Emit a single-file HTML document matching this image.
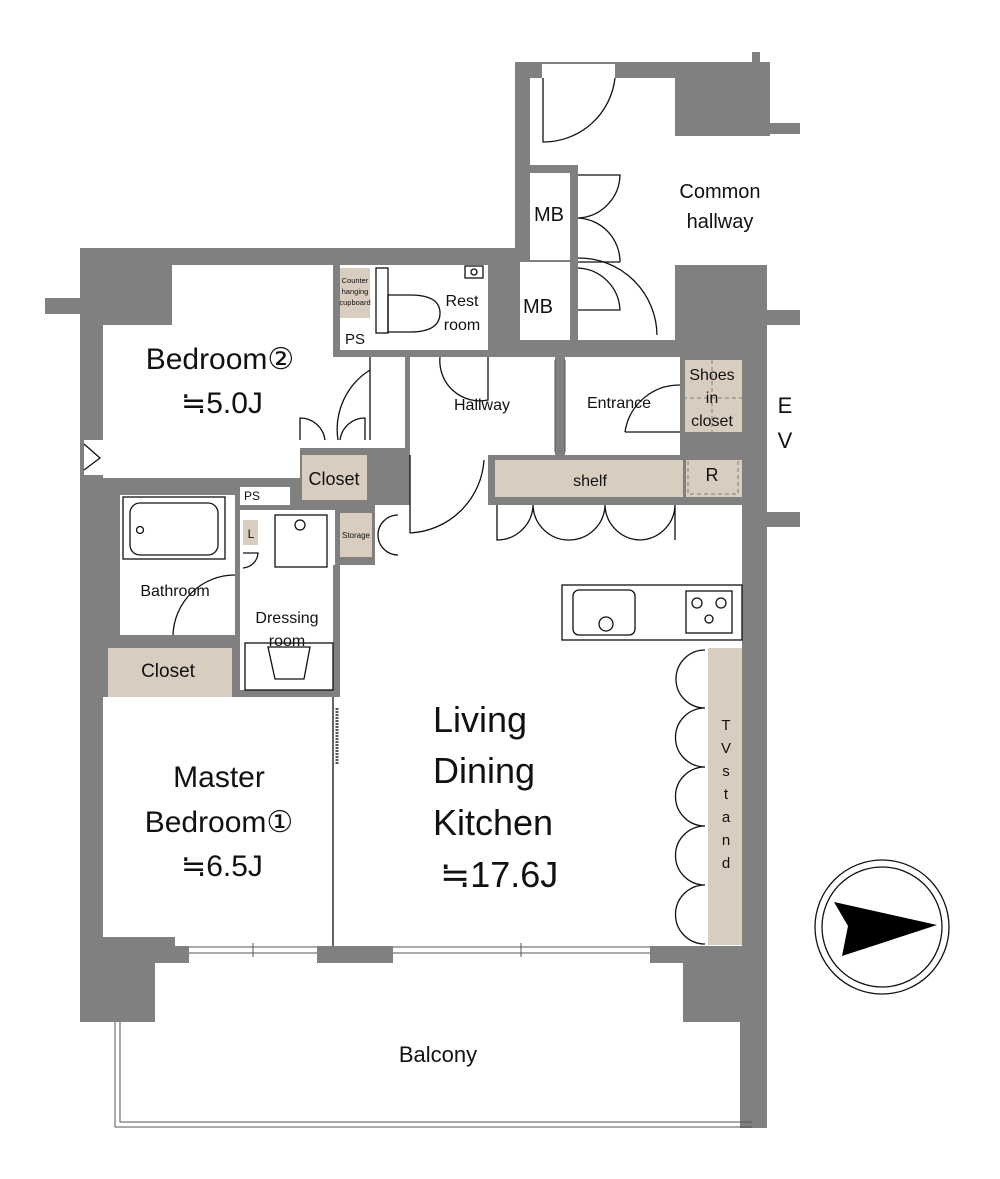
<!DOCTYPE html>
<html><head><meta charset="utf-8"><style>
html,body{margin:0;padding:0;background:#fff;}
svg{display:block;}
text{font-family:"Liberation Sans","DejaVu Sans",sans-serif;fill:#111;}
</style></head><body>
<svg width="1000" height="1179" viewBox="0 0 1000 1179" xmlns="http://www.w3.org/2000/svg">
<rect width="1000" height="1179" fill="#fff"/>
<!-- gray body -->
<g fill="#808080">
<polygon points="80,248 515,248 515,62 752,62 752,52 760,52 760,62 770,62 770,123 800,123 800,134 770,134 770,265 767,265 767,310 800,310 800,325 767,325 767,512 800,512 800,527 767,527 767,1128 740,1128 740,1022 683,1022 683,963 650,963 650,946 393,946 393,963 317,963 317,946 189,946 189,963 155,963 155,1022 80,1022"/>
<rect x="45" y="298" width="40" height="16"/>
</g>
<!-- white carve -->
<g fill="#fff">
<polygon points="172,265 333,265 333,357 405,357 405,440 300,440 300,478 103,478 103,325 172,325"/>
<rect x="340" y="265" width="148" height="85"/>
<rect x="530" y="173" width="40" height="87"/>
<rect x="520" y="262" width="50" height="78"/>
<polygon points="530,78 675,78 675,136 770,136 770,265 675,265 675,340 578,340 578,165 530,165"/>
<rect x="770" y="62" width="30" height="60"/>
<rect x="410" y="357" width="145" height="98"/>
<rect x="565" y="357" width="115" height="98"/>
<polygon points="410,455 488,455 488,505 742,505 742,946 333,946 333,565 375,565 375,505 410,505"/>
<rect x="300" y="440" width="105" height="8"/>
<rect x="240" y="487" width="50" height="18"/>
<rect x="120" y="495" width="115" height="140"/>
<rect x="240" y="510" width="95" height="180"/>
<polygon points="103,697 336,697 336,946 175,946 175,937 103,937"/>
<rect x="84" y="440" width="20" height="35"/>
<rect x="542" y="64" width="73" height="14"/>
</g>
<!-- beige -->
<g fill="#d8cdbf">
<rect x="340" y="268" width="30" height="50"/>
<rect x="683" y="360" width="59" height="72"/>
<rect x="495" y="460" width="247" height="37"/>
<rect x="302" y="455" width="65" height="45"/>
<rect x="340" y="513" width="32" height="44"/>
<rect x="243" y="520" width="15" height="25"/>
<rect x="108" y="648" width="124" height="49"/>
<rect x="708" y="648" width="34" height="297"/>
</g>
<g fill="none" stroke="#808080" stroke-width="1" stroke-dasharray="4,3">
<rect x="688" y="448" width="50" height="46"/>
<line x1="712" y1="360" x2="712" y2="432"/>
<line x1="683" y1="398" x2="742" y2="398"/>
</g>
<g fill="#808080">
<rect x="683" y="432" width="59" height="13"/>
<rect x="680" y="355" width="5" height="100"/>
<rect x="488" y="455" width="254" height="5"/>
<rect x="488" y="497" width="254" height="8"/>
<rect x="683" y="445" width="3" height="52"/>
<rect x="333" y="350" width="347" height="7"/>
<rect x="488" y="255" width="32" height="95"/>
<rect x="570" y="170" width="8" height="175"/>
<rect x="333" y="565" width="7" height="132"/>
</g>
<rect x="343" y="325" width="25" height="25" fill="#fff"/>
<!-- fixtures -->
<g fill="none" stroke="#111" stroke-width="1.3">
<rect x="123" y="497" width="102" height="62"/>
<rect x="130" y="503" width="88" height="52" rx="10"/>
<circle cx="140" cy="530" r="3.5"/>
<rect x="275" y="515" width="52" height="52"/>
<circle cx="300" cy="525" r="5"/>
<rect x="245" y="643" width="88" height="47"/>
<path d="M268,647 L310,647 L304,679 L275,679 Z"/>
<rect x="562" y="585" width="180" height="55"/>
<rect x="573" y="590" width="62" height="45" rx="6"/>
<circle cx="606" cy="624" r="7"/>
<rect x="686" y="591" width="46" height="42"/>
<circle cx="697" cy="603" r="5"/><circle cx="721" cy="603" r="5"/><circle cx="709" cy="619" r="4"/>
<rect x="376" y="268" width="12" height="65"/>
<path d="M388,295 L410,295 Q440,295 440,313 Q440,332 410,332 L388,332 Z"/>
<rect x="465" y="266" width="18" height="12"/>
<circle cx="474" cy="272" r="3"/>
<path d="M370,357 L370,440 M370,370 A70,70 0 0 0 338,440"/>
<path d="M300,440 L300,418 A25,25 0 0 1 325,440 M365,440 L365,418 A25,25 0 0 0 340,440"/>
<path d="M410,455 L410,533 M410,533 A78,78 0 0 0 484,460"/>
<path d="M440,357 A40,40 0 0 0 488,400 L488,357"/>
<path d="M625,432 A55,55 0 0 1 680,385 M625,432 L680,432"/>
<path d="M543,78 L543,142 A72,72 0 0 0 615,78"/>
<path d="M578,175 L620,175 A44,44 0 0 1 578,218 A44,44 0 0 1 620,262 M578,262 L620,262"/>
<path d="M578,268 A44,44 0 0 1 620,310 L578,310"/>
<path d="M578,258 A78,78 0 0 1 657,335"/>
<path d="M497,505 L497,540 A36,36 0 0 0 533,505 A36,36 0 0 0 570,540 A36,36 0 0 0 605,505 A36,36 0 0 0 640,540 A36,36 0 0 0 675,505 L675,540"/>
<path d="M398,515 A20,20 0 0 0 378,535 A20,20 0 0 0 398,555"/>
<path d="M173,635 A62,62 0 0 1 235,575"/>
<path d="M243,553 L258,553 A16,16 0 0 1 243,568"/>
<path d="M705,650 A29,29 0 0 0 705,708 A29,29 0 0 0 705,767 A29,29 0 0 0 705,826 A29,29 0 0 0 705,885 A29,29 0 0 0 705,944"/>
<path d="M333,697 L333,946"/>
<path d="M84,444 L100,458 L84,470"/>
</g>
<g stroke="#555" stroke-width="1" fill="none">
<line x1="189" y1="947" x2="317" y2="947"/><line x1="189" y1="953" x2="317" y2="953"/>
<line x1="393" y1="947" x2="650" y2="947"/><line x1="393" y1="953" x2="650" y2="953"/>
<line x1="253" y1="943" x2="253" y2="957"/><line x1="521" y1="943" x2="521" y2="957"/>
<path d="M120,1022 L120,1122 L752,1122"/>
<path d="M115,1022 L115,1127 L752,1127"/>
<line x1="555" y1="360" x2="555" y2="452"/><line x1="565" y1="360" x2="565" y2="452"/>
<line x1="337" y1="708" x2="337" y2="765" stroke-dasharray="2,1" stroke-width="3"/>
</g>
<!-- labels -->
<text x="720" y="198" font-size="20" text-anchor="middle">Common</text>
<text x="720" y="228" font-size="20" text-anchor="middle">hallway</text>
<text x="549" y="221" font-size="20" text-anchor="middle">MB</text>
<text x="538" y="313" font-size="20" text-anchor="middle">MB</text>
<text x="462" y="306" font-size="16" text-anchor="middle">Rest</text>
<text x="462" y="330" font-size="16" text-anchor="middle">room</text>
<text x="355" y="283" font-size="7.5" text-anchor="middle">Counter</text>
<text x="355" y="294" font-size="7.5" text-anchor="middle">hanging</text>
<text x="355" y="305" font-size="7.5" text-anchor="middle">cupboard</text>
<text x="355" y="344" font-size="15" text-anchor="middle">PS</text>
<text x="220" y="369" font-size="30" text-anchor="middle">Bedroom②</text>
<text x="222" y="413" font-size="30" text-anchor="middle">≒5.0J</text>
<text x="482" y="410" font-size="16" text-anchor="middle">Hallway</text>
<text x="619" y="408" font-size="16" text-anchor="middle">Entrance</text>
<text x="712" y="380" font-size="16" text-anchor="middle">Shoes</text>
<text x="712" y="403" font-size="16" text-anchor="middle">in</text>
<text x="712" y="426" font-size="16" text-anchor="middle">closet</text>
<text x="785" y="413" font-size="22" text-anchor="middle">E</text>
<text x="785" y="448" font-size="22" text-anchor="middle">V</text>
<text x="334" y="485" font-size="18" text-anchor="middle">Closet</text>
<text x="590" y="486" font-size="16" text-anchor="middle">shelf</text>
<text x="712" y="481" font-size="18" text-anchor="middle">R</text>
<text x="252" y="500" font-size="12" text-anchor="middle">PS</text>
<text x="251" y="538" font-size="12" text-anchor="middle">L</text>
<text x="356" y="538" font-size="8" text-anchor="middle">Storage</text>
<text x="175" y="596" font-size="16" text-anchor="middle">Bathroom</text>
<text x="287" y="623" font-size="16" text-anchor="middle">Dressing</text>
<text x="287" y="646" font-size="16" text-anchor="middle">room</text>
<text x="168" y="677" font-size="19" text-anchor="middle">Closet</text>
<text x="219" y="787" font-size="30" text-anchor="middle">Master</text>
<text x="219" y="832" font-size="30" text-anchor="middle">Bedroom①</text>
<text x="222" y="876" font-size="30" text-anchor="middle">≒6.5J</text>
<text x="433" y="732" font-size="36">Living</text>
<text x="433" y="783" font-size="36">Dining</text>
<text x="433" y="835" font-size="36">Kitchen</text>
<text x="440" y="887" font-size="36">≒17.6J</text>
<g font-size="15" text-anchor="middle">
<text x="726" y="730">T</text><text x="726" y="753">V</text><text x="726" y="776">s</text><text x="726" y="799">t</text><text x="726" y="822">a</text><text x="726" y="845">n</text><text x="726" y="868">d</text>
</g>
<text x="438" y="1062" font-size="22" text-anchor="middle">Balcony</text>
<circle cx="882" cy="927" r="67" fill="none" stroke="#111" stroke-width="1.3"/>
<circle cx="882" cy="927" r="60" fill="none" stroke="#111" stroke-width="1.3"/>
<polygon points="834,902 937,925 842,956 848,926" fill="#000"/>
</svg>
</body></html>
